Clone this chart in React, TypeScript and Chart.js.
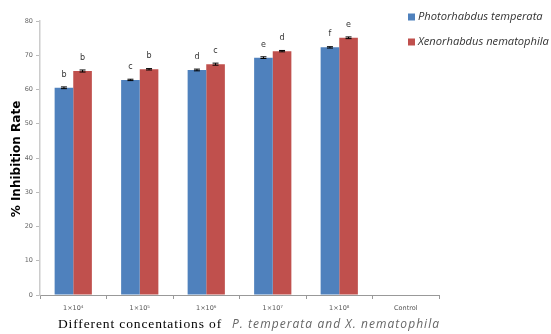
import React, { useEffect, useRef } from "react";
import { Chart, registerables } from "chart.js";

Chart.register(...registerables);

const categories = ["1×10⁴", "1×10⁵", "1×10⁶", "1×10⁷", "1×10⁸", "Control"];
const seriesNames = ["Photorhabdus temperata", "Xenorhabdus nematophila"];
const pTemperata = [60.5, 62.8, 65.7, 69.3, 72.3, null];
const xNematophila = [65.4, 65.9, 67.4, 71.2, 75.1, null];
const pErrors = [0.25, 0.2, 0.25, 0.25, 0.2, 0];
const xErrors = [0.3, 0.2, 0.3, 0.2, 0.25, 0];
const pLetters = ["b", "c", "d", "e", "f", ""];
const xLetters = ["b", "b", "c", "d", "e", ""];
const yTicks = [0, 10, 20, 30, 40, 50, 60, 70, 80];
const colors = ["#4F81BD", "#C0504D"];

function fitFont(ctx: any, text: string, style: string, family: string, target: number) {
  ctx.letterSpacing = "0px";
  ctx.font = `${style} 10px ${family}`;
  const w = ctx.measureText(text).width;
  const size = (10 * target) / w;
  return `${style} ${size.toFixed(2)}px ${family}`;
}

function spacedText(ctx: any, text: string, font: string, x: number, y: number, target: number) {
  ctx.font = font;
  ctx.letterSpacing = "0px";
  const w = ctx.measureText(text).width;
  const ls = (target - w) / text.length;
  ctx.letterSpacing = `${ls.toFixed(2)}px`;
  ctx.fillText(text, x, y);
  ctx.letterSpacing = "0px";
}

const overlay = {
  id: "overlay",
  afterDatasetsDraw(chart: any) {
    const ctx = chart.ctx;
    const y = chart.scales.y;
    const errs = [pErrors, xErrors];
    const letters = [pLetters, xLetters];
    ctx.save();
    chart.data.datasets.forEach((ds: any, di: number) => {
      const meta = chart.getDatasetMeta(di);
      meta.data.forEach((bar: any, i: number) => {
        const v = ds.data[i];
        if (v == null) return;
        const e = errs[di][i];
        const top = y.getPixelForValue(v + e);
        const bot = y.getPixelForValue(v - e);
        ctx.strokeStyle = "#000";
        ctx.lineWidth = 1;
        ctx.beginPath();
        ctx.moveTo(bar.x, top);
        ctx.lineTo(bar.x, bot);
        ctx.moveTo(bar.x - 3, top);
        ctx.lineTo(bar.x + 3, top);
        ctx.moveTo(bar.x - 3, bot);
        ctx.lineTo(bar.x + 3, bot);
        ctx.stroke();
        ctx.fillStyle = "#333";
        ctx.font = "8px 'DejaVu Sans', sans-serif";
        ctx.textAlign = "center";
        ctx.textBaseline = "middle";
        ctx.fillText(letters[di][i], bar.x, y.getPixelForValue(v) - 13);
      });
    });
    // legend
    ctx.textAlign = "left";
    ctx.textBaseline = "middle";
    seriesNames.forEach((n, i) => {
      const cy = 17 + i * 25;
      ctx.fillStyle = colors[i];
      ctx.fillRect(408, cy - 3.5, 7, 7);
      ctx.fillStyle = "#333";
      ctx.font = fitFont(ctx, seriesNames[1], "italic", "'Open Sans', sans-serif", 131);
      ctx.fillText(n, 418, cy);
    });
    // y title
    ctx.save();
    ctx.translate(17, 159);
    ctx.rotate(-Math.PI / 2);
    ctx.textAlign = "center";
    ctx.fillStyle = "#000";
    ctx.font = "bold 12px 'DejaVu Sans', sans-serif";
    ctx.fillText("% Inhibition Rate", 0, 0);
    ctx.restore();
    // x title
    ctx.textAlign = "left";
    ctx.textBaseline = "alphabetic";
    ctx.fillStyle = "#000";
    spacedText(ctx, "Different concentations of", "13.5px 'Liberation Serif', serif", 58, 327.5, 164);
    ctx.fillStyle = "#666";
    spacedText(ctx, "P. temperata and X. nematophila", "italic 12px 'Open Sans', sans-serif", 232, 327.5, 208);
    ctx.restore();
  },
};

export default function App() {
  const ref = useRef<HTMLCanvasElement>(null);
  useEffect(() => {
    const chart = new Chart(ref.current!, {
      type: "bar",
      data: {
        labels: categories,
        datasets: [
          { label: seriesNames[0], data: pTemperata, backgroundColor: colors[0] },
          { label: seriesNames[1], data: xNematophila, backgroundColor: colors[1] },
        ],
      },
      options: {
        animation: false,
        responsive: false,
        maintainAspectRatio: false,
        layout: { padding: { top: 21, right: 112, left: 0, bottom: 0 } },
        plugins: { legend: { display: false }, tooltip: { enabled: false } },
        datasets: { bar: { categoryPercentage: 0.56, barPercentage: 1 } },
        scales: {
          x: {
            afterFit: (s: any) => { s.height = 39; },
            grid: { drawOnChartArea: false, drawTicks: true, tickLength: 4, color: "#999", offset: true },
            border: { display: true, color: "#999" },
            ticks: { color: "#555", font: { size: 6.5, family: "'DejaVu Sans', sans-serif" }, padding: 5 },
          },
          y: {
            min: 0,
            max: 80,
            afterFit: (s: any) => { s.width = 40; },
            afterBuildTicks: (s: any) => { s.ticks = yTicks.map((v) => ({ value: v })); },
            grid: { drawOnChartArea: false, drawTicks: true, tickLength: 4, color: "#bbb" },
            border: { display: true, color: "#ccc", width: 1.5 },
            ticks: { color: "#666", font: { size: 6.5, family: "'DejaVu Sans', sans-serif" }, padding: 3 },
          },
        },
      },
      plugins: [overlay],
    });
    return () => chart.destroy();
  }, []);
  return (
    <canvas
      ref={ref}
      width={551}
      height={334}
      style={{ position: "fixed", left: 0, top: 0, width: 551, height: 334, display: "block", background: "#fff" }}
    />
  );
}
